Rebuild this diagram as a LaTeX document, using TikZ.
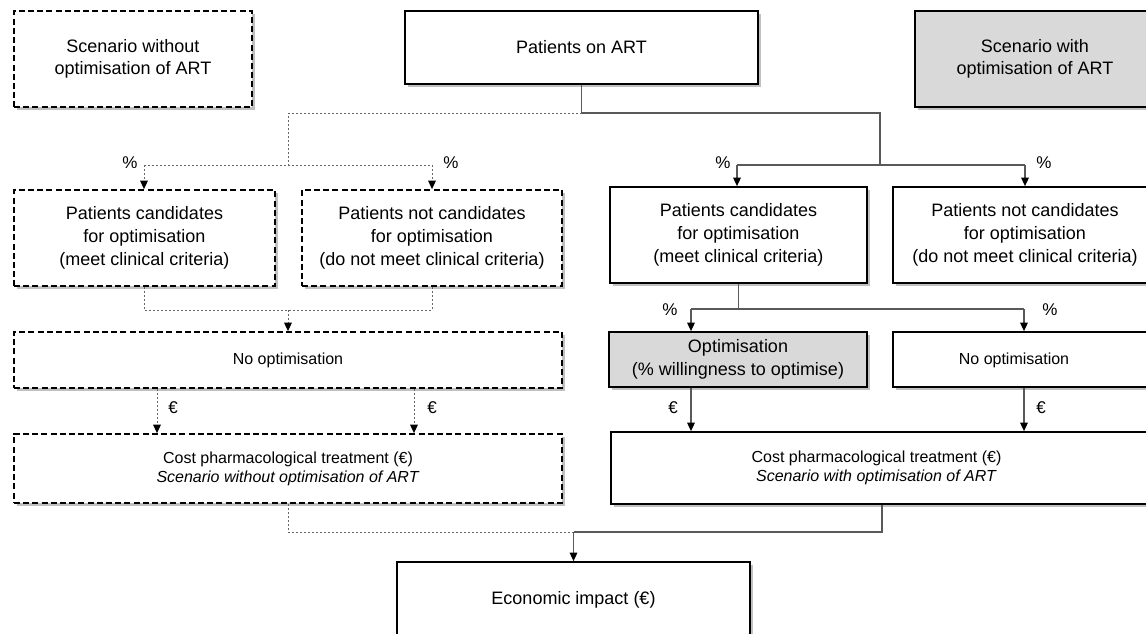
\documentclass[tikz,border=0pt]{standalone}
\usepackage{fontspec}
\setmainfont{Liberation Sans}
\usetikzlibrary{arrows.meta,shadows}
\begin{document}
\begin{tikzpicture}[x=0.5pt,y=-0.5pt,
  shad/.style={general shadow={shadow xshift=1.4pt, shadow yshift=-1.4pt, fill=black!55, opacity=0.45}},
  box/.style={draw=black, line width=0.9pt, fill=white, rectangle, inner sep=2pt, align=center,
    font=\fontsize{9}{11.5}\selectfont, shad},
  dbox/.style={box, dash pattern=on 3pt off 1.6pt},
  gbox/.style={box, fill=black!15},
  small/.style={font=\fontsize{8}{9.5}\selectfont},
  txt/.style={inner sep=0pt, align=center},
  conn/.style={draw=black!65, line width=0.55pt},
  dconn/.style={draw=black!60, line width=0.5pt, dash pattern=on 1pt off 1pt},
  arr/.style={-{Triangle[length=4.2pt,width=3.8pt,color=black]}},
  lab/.style={inner sep=0pt, font=\fontsize{8.5}{10}\selectfont}
]
\useasboundingbox (0,0) rectangle (1146,633);

% top row
\node[dbox, minimum width=119pt, minimum height=48pt, font=\fontsize{9}{11}\selectfont] (sw) at (133,59) {Scenario without\\optimisation of ART};
\node[box, minimum width=176.5pt, minimum height=36.5pt] (art) at (581.5,47.5) {Patients on ART};
\node[gbox, minimum width=120pt, minimum height=48pt, font=\fontsize{9}{11}\selectfont] (swith) at (1035,59) {Scenario with\\optimisation of ART};

% candidate row
\node[dbox, minimum width=130.5pt, minimum height=48pt] (lc) at (144.5,238) {Patients candidates\\for optimisation\\(meet clinical criteria)};
\node[dbox, minimum width=130pt, minimum height=48pt] (lnc) at (432,238) {Patients not candidates\\for optimisation\\(do not meet clinical criteria)};
\node[box, minimum width=128.5pt, minimum height=48pt] (rc) at (738.5,235) {Patients candidates\\for optimisation\\(meet clinical criteria)};
\node[box, minimum width=132pt, minimum height=48pt] (rnc) at (1025,235) {Patients not candidates\\for optimisation\\(do not meet clinical criteria)};

% optimisation row
\node[dbox, small, minimum width=274pt, minimum height=28pt] (lno) at (288,360) {No optimisation};
\node[gbox, minimum width=129pt, minimum height=27.5pt] (opt) at (738,359.5) {Optimisation\\(\% willingness to optimise)};
\node[box, minimum width=132pt, minimum height=27.5pt] (rno) at (1025,359.5) {};
\node[txt, small] (rnot) at (1014,360) {No optimisation};

% cost row
\node[dbox, small, minimum width=274pt, minimum height=34.5pt] (lcost) at (288,468.5) {Cost pharmacological treatment (€)\\\textit{Scenario without optimisation of ART}};
\node[box, minimum width=273pt, minimum height=36pt] (rcost) at (884,468) {};
\node[txt, small] (rcostt) at (876.5,468) {Cost pharmacological treatment (€)\\\textit{Scenario with optimisation of ART}};

% economic impact
\node[box, minimum width=176.5pt, minimum height=38pt] (econ) at (573.5,600) {Economic impact (€)};

% junctions
\coordinate (j0) at (581.5,113);
\coordinate (jl) at (288,113);
\coordinate (jlb) at (288,165);
\coordinate (jr) at (880,113);
\coordinate (jrb) at (880,165);
\coordinate (la) at (144,165);
\coordinate (lb) at (432,165);
\coordinate (ra) at (737,165);
\coordinate (rb) at (1025,165);
\coordinate (l2a) at (144,310);
\coordinate (l2b) at (432,310);
\coordinate (l2m) at (288,310);
\coordinate (r2m) at (738.5,309);
\coordinate (r2a) at (691,309);
\coordinate (r2b) at (1024,309);
\coordinate (bl) at (288,532);
\coordinate (br) at (882,532);
\coordinate (bm) at (573.5,532);

% connectors from Patients on ART
\draw[conn] (art.south) -- (j0);
\draw[dconn] (j0) -- (jl) -- (jlb);
\draw[dconn] (la) -- (lb);
\draw[dconn,arr] (la) -- (la |- lc.north);
\draw[dconn,arr] (lb) -- (lb |- lnc.north);
\draw[conn] (j0) -- (jr) -- (jrb);
\draw[conn] (ra) -- (rb);
\draw[conn,arr] (ra) -- (ra |- rc.north);
\draw[conn,arr] (rb) -- (rb |- rnc.north);

% left merge
\draw[dconn] (l2a |- lc.south) -- (l2a) -- (l2b) -- (l2b |- lnc.south);
\draw[dconn,arr] (l2m) -- (lno.north);

% right split
\draw[conn] (r2m |- rc.south) -- (r2m);
\draw[conn] (r2a) -- (r2b);
\draw[conn,arr] (r2a) -- (r2a |- opt.north);
\draw[conn,arr] (r2b) -- (r2b |- rno.north);

% euro arrows
\draw[dconn,arr] (157,0 |- lno.south) -- (157,0 |- lcost.north);
\draw[dconn,arr] (414,0 |- lno.south) -- (414,0 |- lcost.north);
\draw[conn,arr] (r2a |- opt.south) -- (r2a |- rcost.north);
\draw[conn,arr] (r2b |- rno.south) -- (r2b |- rcost.north);

% bottom merge
\draw[dconn] (bl |- lcost.south) -- (bl) -- (bm);
\draw[conn] (br |- rcost.south) -- (br) -- (bm);
\draw[conn,arr] (bm) -- (econ.north);

% labels
\node[lab] (p1) at (130,163) {\%};
\node[lab] (p2) at (451,163) {\%};
\node[lab] (p3) at (723,163) {\%};
\node[lab] (p4) at (1044,163) {\%};
\node[lab] (p5) at (670,310) {\%};
\node[lab] (p6) at (1050,310) {\%};
\node[lab] (e1) at (173,408) {€};
\node[lab] (e2) at (432,408) {€};
\node[lab] (e3) at (673,408) {€};
\node[lab] (e4) at (1041,408) {€};
\end{tikzpicture}
\end{document}
